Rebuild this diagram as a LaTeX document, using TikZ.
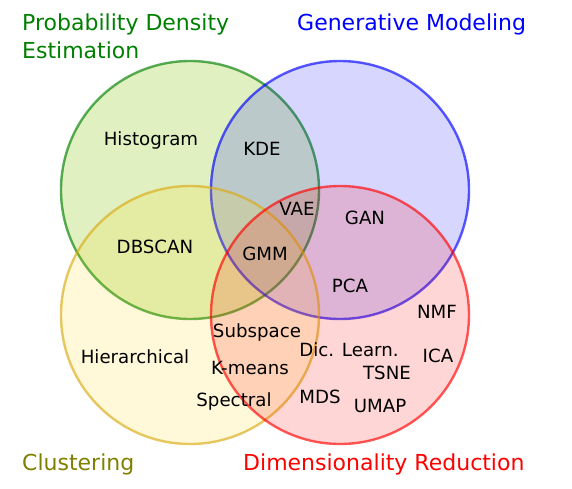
\documentclass[tikz,border=0pt]{standalone}
\usepackage{fontspec}
\setmainfont{DejaVu Sans}
\usepackage{xcolor}
\definecolor{yellowgreen}{RGB}{154,205,50}
\definecolor{pdegreen}{RGB}{0,128,0}
\definecolor{gold}{RGB}{255,215,0}
\definecolor{goldrod}{RGB}{218,170,20}
\definecolor{olivetxt}{RGB}{128,128,0}

\begin{document}
\begin{tikzpicture}[x=1pt, y=-1pt,
    set/.style={circle, minimum size=258pt, inner sep=0pt, line width=2.4pt, draw opacity=0.65, fill opacity=#1},
    title/.style={anchor=base west, inner sep=0pt, font=\fontsize{22}{28}\selectfont, align=left},
    algo/.style={font=\fontsize{18.2}{20}\selectfont, inner sep=1pt}
]
\useasboundingbox (0,0) rectangle (572,488);
\node[set=0.3, draw=pdegreen, fill=yellowgreen] (pde) at (190,190) {};
\node[set=0.16, draw=blue, fill=blue] (gen) at (340,190) {};
\node[set=0.15, draw=goldrod, fill=gold] (clu) at (190,315) {};
\node[set=0.16, draw=red, fill=red] (dim) at (340,315) {};

\node[title, text=pdegreen] (tpde) at (22,58) {Probability Density\\Estimation};
\node[title, text=blue] (tgen) at (297,30) {Generative Modeling};
\node[title, text=olivetxt] (tclu) at (22,470) {Clustering};
\node[title, text=red] (tdim) at (243,470) {Dimensionality Reduction};

\node[algo] (hist) at (151,140) {Histogram};
\node[algo] (kde) at (262,149) {KDE};
\node[algo] (vae) at (297,209) {VAE};
\node[algo] (gan) at (365,218) {GAN};
\node[algo] (dbscan) at (155,247) {DBSCAN};
\node[algo] (gmm) at (265,254) {GMM};
\node[algo] (pca) at (350,286) {PCA};
\node[algo] (nmf) at (437,312) {NMF};
\node[algo] (subsp) at (257,332) {Subspace};
\node[algo] (dicl) at (349,350) {Dic. Learn.};
\node[algo] (hier) at (135,357) {Hierarchical};
\node[algo] (ica) at (438,356) {ICA};
\node[algo] (kmeans) at (250,368) {K-means};
\node[algo] (tsne) at (387,373) {TSNE};
\node[algo] (spec) at (234,401) {Spectral};
\node[algo] (mds) at (320,397) {MDS};
\node[algo] (umap) at (380,406) {UMAP};
\end{tikzpicture}
\end{document}
